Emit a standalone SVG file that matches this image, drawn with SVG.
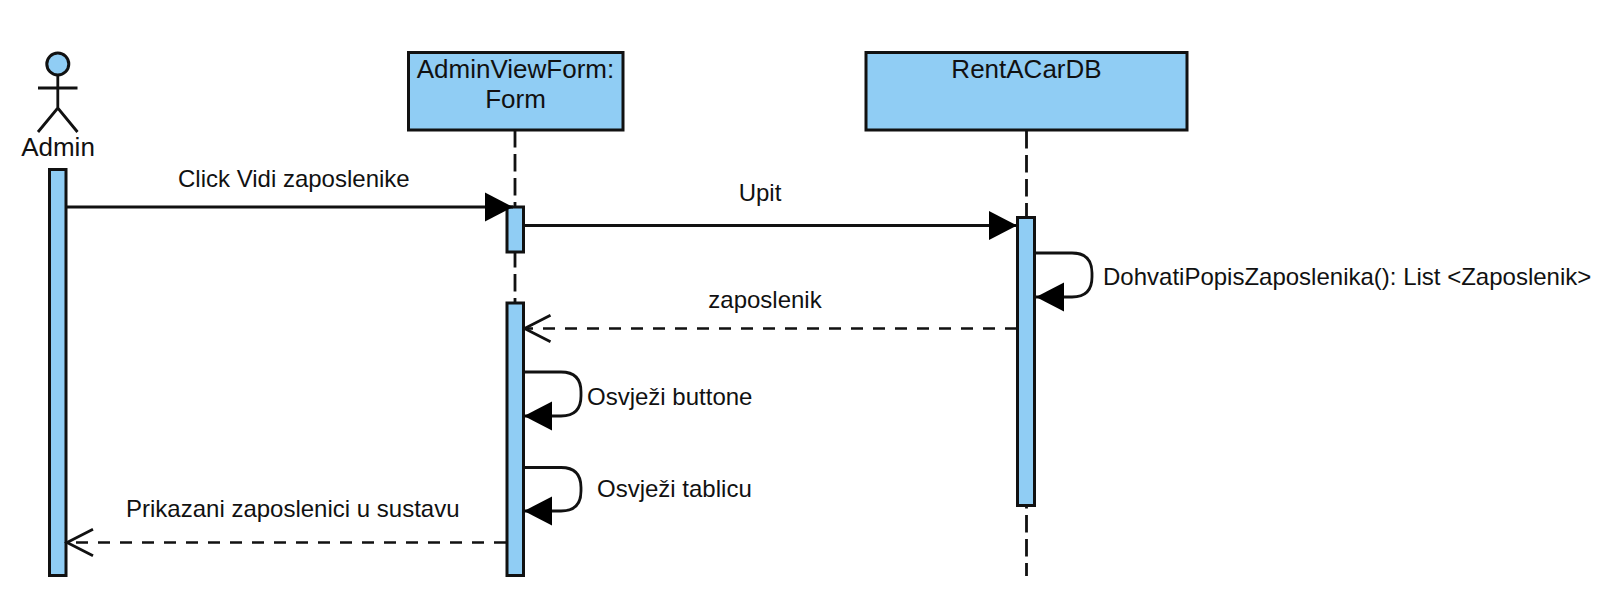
<svg xmlns="http://www.w3.org/2000/svg" width="1620" height="602" viewBox="0 0 1620 602">
<style>
.box{fill:#90cdf4;stroke:#111;stroke-width:3}
.line{fill:none;stroke:#111;stroke-width:2.800}
.dash{fill:none;stroke:#111;stroke-width:2.800;stroke-dasharray:17.500 6.500}
.ret{fill:none;stroke:#111;stroke-width:2.500;stroke-dasharray:12 10}
text{font-family:"Liberation Sans",Arial,sans-serif;fill:#111}
.t26{font-size:26px;text-anchor:middle}
.t24{font-size:24px}
.mid{text-anchor:middle}
</style>
<defs>
<marker id="solid" markerUnits="userSpaceOnUse" markerWidth="30" markerHeight="32" refX="28" refY="15" orient="auto"><path d="M0 0.500L28 15L0 29.500Z" fill="#000"/></marker>
<marker id="open" markerUnits="userSpaceOnUse" markerWidth="30" markerHeight="32" refX="27" refY="15" orient="auto"><path d="M1 1.700L27 15L1 28.300" fill="none" stroke="#111" stroke-width="2.800"/></marker>
</defs>
<g id="lifelines">
<path class="dash" d="M515 130V576"/>
<path class="dash" d="M1026.500 131V576"/>
</g>
<g id="admin">
<circle class="box" cx="57.800" cy="64" r="11"/>
<path class="line" d="M57.800 75V108M38 88H77.500M38 132L57.800 108L77.500 132"/>
<text class="t26" x="58" y="156">Admin</text>
<rect class="box" x="49.500" y="169.500" width="16.500" height="406"/>
</g>
<g id="form">
<rect class="box" x="408.500" y="52.500" width="214.500" height="77.500"/>
<text class="t26" x="515.500" y="78">AdminViewForm:</text>
<text class="t26" x="515.500" y="108">Form</text>
<rect class="box" x="507" y="207" width="16.500" height="45"/>
<rect class="box" x="507" y="303" width="16.500" height="272.500"/>
</g>
<g id="db">
<rect class="box" x="866" y="52.500" width="321" height="77.500"/>
<text class="t26" x="1026.500" y="78">RentACarDB</text>
<rect class="box" x="1017.500" y="217.500" width="17" height="288"/>
</g>
<g id="connectors">
<path class="line" marker-end="url(#solid)" d="M66 207H513"/>
<path class="line" marker-end="url(#solid)" d="M524 225.500H1017"/>
<path class="line" marker-end="url(#solid)" d="M1035 253H1072Q1092 253 1092 273V277Q1092 297 1072 297H1036"/>
<path class="ret" marker-end="url(#open)" d="M1017 328.500H524.500"/>
<path class="line" marker-end="url(#solid)" d="M524 372H561Q581 372 581 392V396Q581 416 561 416H524"/>
<path class="line" marker-end="url(#solid)" d="M524 467.500H561Q581 467.500 581 487.500V491Q581 511 561 511H524"/>
<path class="ret" marker-end="url(#open)" d="M506 542.500H67"/>
</g>
<g id="labels">
<text class="t24" x="178" y="187">Click Vidi zaposlenike</text>
<text class="t24 mid" x="760" y="201">Upit</text>
<text class="t24" x="1103" y="285">DohvatiPopisZaposlenika(): List &lt;Zaposlenik&gt;</text>
<text class="t24 mid" x="765" y="308">zaposlenik</text>
<text class="t24" x="587" y="405">Osvježi buttone</text>
<text class="t24" x="597" y="497">Osvježi tablicu</text>
<text class="t24" x="126" y="517">Prikazani zaposlenici u sustavu</text>
</g>
</svg>
